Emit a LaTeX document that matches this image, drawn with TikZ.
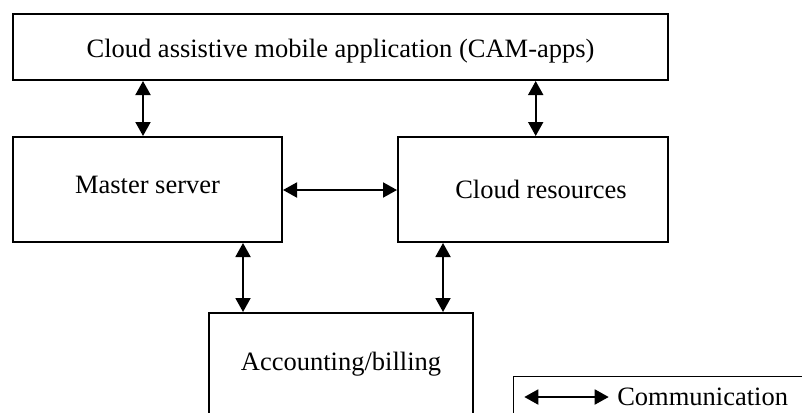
\documentclass[tikz,border=0pt]{standalone}
\usepackage{fontspec}
\setmainfont{Liberation Serif}
\usetikzlibrary{arrows.meta, positioning}

\begin{document}
\begin{tikzpicture}[x=1pt, y=-1pt,
    box/.style={draw, line width=1.4pt, inner sep=0pt, text height=18pt, text depth=6pt, font=\fontsize{26.5}{30}\selectfont},
    comm/.style={{Triangle[length=14pt, width=15pt]}-{Triangle[length=14pt, width=15pt]}, line width=1.9pt, shorten <=0.3pt, shorten >=0.3pt}]
    \useasboundingbox (0,0) rectangle (802,412);
    \clip (0,0) rectangle (802,412);

    % Blocks
    \node[box, minimum width=655pt, minimum height=66pt, text height=24pt, text depth=2pt] (cam) at (340.5,47) {Cloud assistive mobile application (CAM-apps)};
    \node[box, minimum width=269pt, minimum height=105pt, text height=13pt] (master) at (147.5,189.5) {Master server};
    \node[box, minimum width=270pt, minimum height=105pt, text height=19pt, text depth=2pt] (resources) at (533,189.5) {\hspace*{16pt}Cloud resources};
    \node[box, minimum width=264pt, minimum height=102pt] (billing) at (341,364) {Accounting/billing};

    % Links
    \draw[comm] ([xshift=-4.5pt]master.north) -- ([xshift=-4.5pt]master.north |- cam.south);
    \draw[comm] ([xshift=2.7pt]resources.north) -- ([xshift=2.7pt]resources.north |- cam.south);
    \draw[comm] ([yshift=-0.5pt]master.east) -- ([yshift=-0.5pt]resources.west);
    \draw[comm] ([xshift=95.5pt]master.south) -- ([xshift=95.5pt]master.south |- billing.north);
    \draw[comm] ([xshift=-90pt]resources.south) -- ([xshift=-90pt]resources.south |- billing.north);

    % Legend
    \node[box, minimum width=400pt, minimum height=42pt, anchor=north west] (legend) at (513,376) {};
    \coordinate (legA) at (524,397);
    \coordinate[right=85pt of legA] (legB);
    \draw[comm] (legA) -- (legB) node[right=4pt, font=\fontsize{26.5}{30}\selectfont] (legtext) {Communication};
\end{tikzpicture}
\end{document}
